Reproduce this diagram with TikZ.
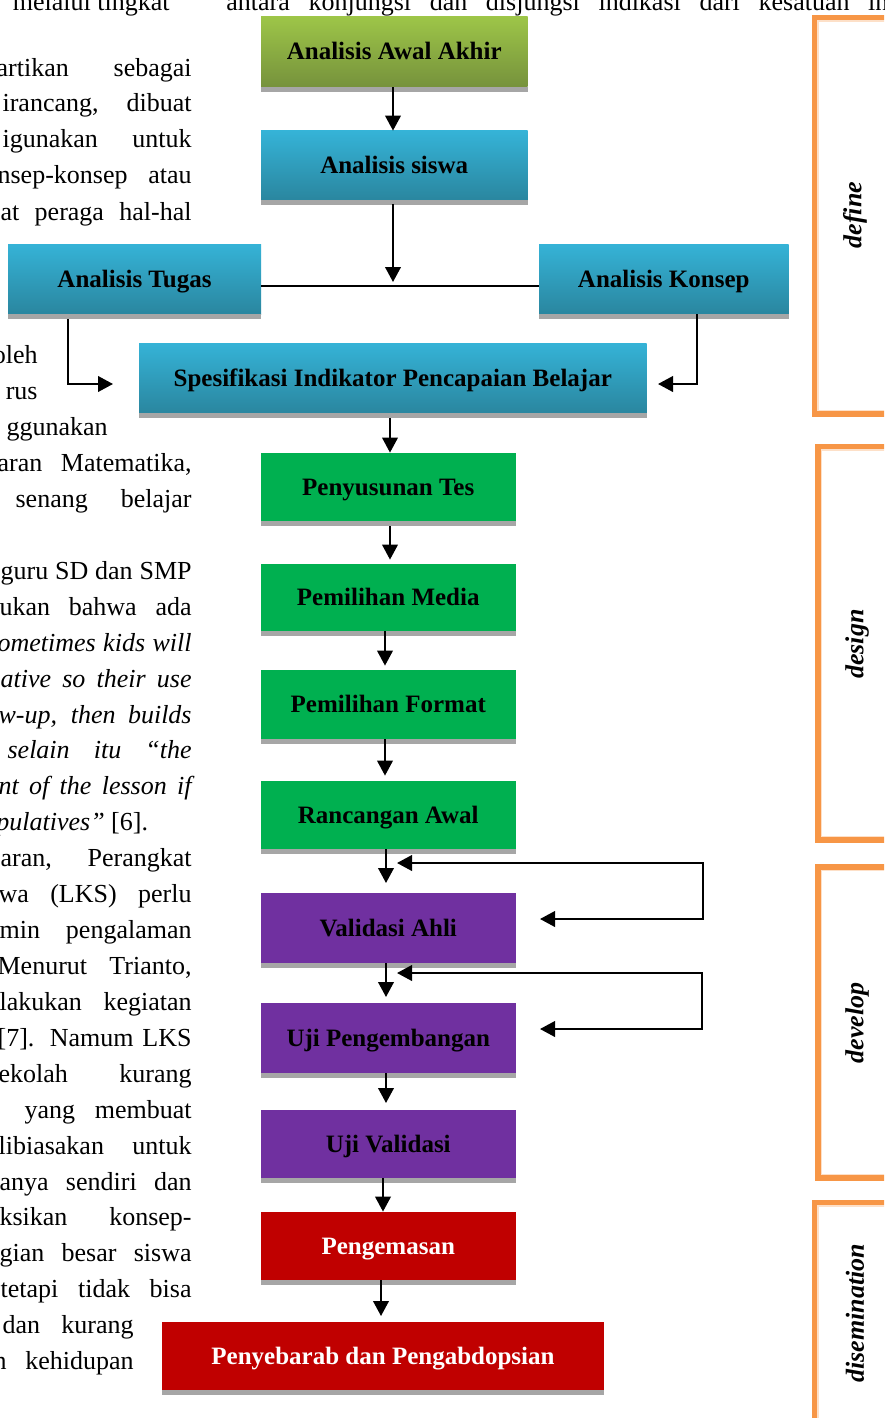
\documentclass[tikz,border=0pt]{standalone}
\usepackage{fontspec}
\setmainfont{Liberation Serif}
\usetikzlibrary{arrows.meta}
\newdimen\pxu \pxu=0.5pt
\definecolor{greenT}{HTML}{9DC548}
\definecolor{greenB}{HTML}{76923C}
\definecolor{blueT}{HTML}{35B3D7}
\definecolor{blueB}{HTML}{2A869F}
\definecolor{greenS}{HTML}{00B050}
\definecolor{purpleS}{HTML}{7030A0}
\definecolor{redS}{HTML}{C00000}
\definecolor{shadowG}{HTML}{A6A6A6}
\definecolor{orangeF}{HTML}{F79646}
\definecolor{orangeL}{HTML}{FDE0C8}
\tikzset{
  wh/.style 2 args={minimum width=#1*0.5pt, minimum height=#2*0.5pt},
  box/.style={rectangle, inner sep=0pt, font=\bfseries\fontsize{12.5}{15}\selectfont, align=center, text height=1.0em, text depth=0.2em},
  gradgreen/.style={box, top color=greenT, bottom color=greenB},
  gradblue/.style={box, top color=blueT, bottom color=blueB},
  solidgreen/.style={box, fill=greenS},
  solidpurple/.style={box, fill=purpleS},
  solidred/.style={box, fill=redS, text=white},
  bodytxt/.style={inner sep=0pt, anchor=base east, font=\fontsize{13}{15}\selectfont},
  bodytxtw/.style={inner sep=0pt, anchor=base west, font=\fontsize{13}{15}\selectfont},
  arr/.style={line width=1pt, -{Triangle[length=7.5pt,width=7.8pt]}},
  arrboth/.style={line width=1pt, {Triangle[length=7.5pt,width=7.8pt]}-{Triangle[length=7.5pt,width=7.8pt]}},
  ln/.style={line width=1pt},
  oframe/.style={draw=orangeF, line width=2.75pt, line join=miter},
  oinner/.style={draw=orangeL, line width=0.6pt},
  phase/.style={rotate=90, inner sep=0pt, font=\bfseries\itshape\fontsize{13}{15}\selectfont}
}
\newcommand\bline[5]{\node[bodytxt] (#1) at (#2,#3) {\makebox[#4\pxu][s]{#5}};}
\newcommand\bnat[4]{\node[bodytxt] (#1) at (#2,#3) {#4};}
\begin{document}
\begin{tikzpicture}[x=0.5pt,y=-0.5pt]
\useasboundingbox (0,0) rectangle (884,1418);
\clip (0,0) rectangle (884,1418);
\fill[white] (0,0) rectangle (884,1418);

% ---------- surrounding body text ----------
\bnat{tm}{170}{11}{melalui tingkat}
\node[bodytxtw] (tr) at (226,11) {\makebox[662\pxu][s]{antara konjungsi dan disjungsi indikasi dari kesatuan in}};
\bline{l0}{192}{76}{195}{artikan sebagai}
\bline{l1}{192}{112}{189}{irancang, dibuat}
\bline{l2}{192}{148}{189}{igunakan untuk}
\bline{l3}{192}{184}{194}{nsep-konsep atau}
\bline{l4}{192}{220}{191}{at peraga hal-hal}
\bnat{l8}{38}{363}{oleh}
\bnat{l9}{38}{399}{rus}
\bnat{l10}{108}{435}{ggunakan}
\bline{l11}{192}{471}{194}{aran Matematika,}
\bline{l12}{192}{507}{176}{senang belajar}
\bline{l14}{192}{579}{191}{guru SD dan SMP}
\bline{l15}{192}{615}{192}{ukan bahwa ada}
\bline{l16}{192}{651}{194}{\itshape ometimes kids will}
\bline{l17}{192}{687}{191}{\itshape ative so their use}
\bline{l18}{192}{723}{193}{\itshape w-up, then builds}
\bline{l19}{192}{758}{184}{\itshape selain itu “the}
\bline{l20}{192}{794}{193}{\itshape nt of the lesson if}
\node[bodytxtw] (l21) at (-4,830) {\textit{pulatives”} [6].};
\bline{l22}{192}{866}{191}{aran, Perangkat}
\bline{l23}{192}{902}{193}{wa (LKS) perlu}
\bline{l24}{192}{938}{192}{min pengalaman}
\bline{l25}{192}{974}{194}{Menurut Trianto,}
\bline{l26}{192}{1010}{192}{lakukan kegiatan}
\bline{l27}{192}{1046}{194}{[7]. Namum LKS}
\bline{l28}{192}{1082}{193}{ekolah kurang}
\bline{l29}{192}{1118}{167}{yang membuat}
\bline{l30}{192}{1154}{193}{libiasakan untuk}
\bline{l31}{192}{1190}{192}{anya sendiri dan}
\bline{l32}{192}{1225}{192}{ksikan konsep-}
\bline{l33}{192}{1261}{192}{gian besar siswa}
\bline{l34}{192}{1297}{191}{tetapi tidak bisa}
\bline{l35}{134}{1333}{131}{dan kurang}
\bline{l36}{134}{1369}{140}{n kehidupan}

% ---------- flowchart boxes ----------
\node[gradgreen, wh={266.5}{70}] (aaa) at (394.25,52) {Analisis Awal Akhir};
\node[gradblue, wh={266.5}{69}] (asw) at (394.25,165.5) {Analisis siswa};
\node[gradblue, wh={253}{70}] (atg) at (134.5,279) {Analisis Tugas};
\node[gradblue, wh={249.5}{70}] (akn) at (663.75,279) {Analisis Konsep};
\node[gradblue, wh={507.5}{70}] (spi) at (392.75,378) {Spesifikasi Indikator Pencapaian Belajar};
\node[solidgreen, wh={254.5}{68}] (pt) at (388.25,487) {Penyusunan Tes};
\node[solidgreen, wh={254.5}{67}] (pm) at (388.25,597.5) {Pemilihan Media};
\node[solidgreen, wh={254.5}{69}] (pf) at (388.25,704.5) {Pemilihan Format};
\node[solidgreen, wh={254.5}{68}] (ra) at (388.25,815) {Rancangan Awal};
\node[solidpurple, wh={254.5}{70}] (va) at (388.25,928) {Validasi Ahli};
\node[solidpurple, wh={254.5}{70}] (up) at (388.25,1038) {Uji Pengembangan};
\node[solidpurple, wh={254.5}{68}] (uv) at (388.25,1144) {Uji Validasi};
\node[solidred, wh={254.5}{68}] (pg) at (388.25,1246) {Pengemasan};
\node[solidred, wh={442}{68}] (pp) at (383,1356) {Penyebarab dan Pengabdopsian};

% shadows
\foreach \n in {aaa,asw,atg,akn,spi,pt,pm,pf,ra,va,up,uv,pg,pp}
  \fill[shadowG] (\n.south west) rectangle ([yshift=-2.5pt]\n.south east);

% ---------- helper coordinates ----------
\coordinate (x393) at (393,0);
\coordinate (x390) at (390,0);
\coordinate (x385) at (385,0);
\coordinate (x383) at (383,0);
\coordinate (j1) at (393,282);
\coordinate (c1) at (68,384);
\coordinate (t1) at (113,384);
\coordinate (c2) at (697,384);
\coordinate (t2) at (658,384);
\coordinate (r1) at (386,883);
\coordinate (r2) at (386,997);
\coordinate (r3) at (386,1103);
\coordinate (r4) at (381,1316);
\coordinate (f1t) at (397,863);
\coordinate (f1a) at (703,863);
\coordinate (f1b) at (703,919);
\coordinate (f1e) at (540,919);
\coordinate (f2t) at (397,973);
\coordinate (f2a) at (702,973);
\coordinate (f2b) at (702,1029);
\coordinate (f2e) at (540,1029);

% ---------- connectors ----------
\draw[arr] (aaa.south -| x393) -- (asw.north -| x393);
\draw[arr] ([yshift=-2pt]asw.south -| x393) -- (j1);
\draw[ln] ([yshift=-3.5pt]atg.east) -- ([yshift=-3.5pt]akn.west);
\draw[arr] ([yshift=-2.5pt]atg.south -| c1) -- (c1) -- (t1);
\draw[arr] (akn.south -| c2) -- (c2) -- (t2);
\draw[arr] ([yshift=-2.5pt]spi.south -| x390) -- (pt.north -| x390);
\draw[arr] ([yshift=-2.5pt]pt.south -| x390) -- ([yshift=2pt]pm.north -| x390);
\draw[arr] (pm.south -| x385) -- ([yshift=2pt]pf.north -| x385);
\draw[arr] (pf.south -| x385) -- ([yshift=2.5pt]ra.north -| x385);
\draw[arr] (ra.south -| r1) -- (r1);
\draw[arr] (va.south -| r2) -- (r2);
\draw[arr] (up.south -| r3) -- (r3);
\draw[arr] (uv.south -| x383) -- (pg.north -| x383);
\draw[arr] (pg.south -| r4) -- (r4);
\draw[arrboth, line join=miter] (f1t) -- (f1a) -- (f1b) -- (f1e);
\draw[arrboth, line join=miter] (f2t) -- (f2a) -- (f2b) -- (f2e);

% ---------- phase brackets ----------
\draw[oframe] (890,17.5) -- (814.5,17.5) -- (814.5,414) -- (890,414);
\draw[oinner] (890,21) -- (818,21) -- (818,410.5) -- (890,410.5);
\draw[oframe] (890,446.5) -- (818,446.5) -- (818,840) -- (890,840);
\draw[oinner] (890,450) -- (821.5,450) -- (821.5,836.5) -- (890,836.5);
\draw[oframe] (890,867) -- (818,867) -- (818,1178) -- (890,1178);
\draw[oinner] (890,870.5) -- (821.5,870.5) -- (821.5,1174.5) -- (890,1174.5);
\draw[oframe] (890,1202.5) -- (814.5,1202.5) -- (814.5,1430);
\draw[oinner] (890,1206) -- (818,1206) -- (818,1430);

\node[phase] (pdef) at (855,215) {define};
\node[phase] (pdes) at (857,644) {design};
\node[phase] (pdev) at (857,1023) {develop};
\node[phase] (pdis) at (855,1313) {disemination};
\end{tikzpicture}
\end{document}
